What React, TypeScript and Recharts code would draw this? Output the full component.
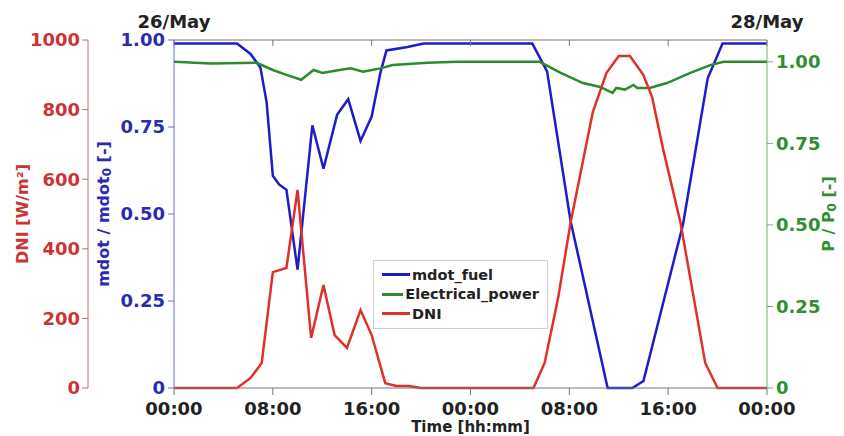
import { LineChart, Line, XAxis, YAxis, Legend } from "recharts";

// hours since 26/May 00:00
const fuelHours = [0, 5.1, 6.2, 7.0, 7.5, 8.0, 8.5, 9.1, 10.0, 11.2, 12.1, 13.2, 14.1, 15.1, 16.0, 16.7, 17.2, 18.9, 20.2, 29.0, 30.2, 32.1, 35.1, 37.1, 38.0, 41.2, 43.2, 44.4, 48];
const fuelValues = [0.99, 0.99, 0.96, 0.92, 0.82, 0.61, 0.585, 0.57, 0.34, 0.755, 0.63, 0.785, 0.83, 0.71, 0.78, 0.905, 0.97, 0.98, 0.99, 0.99, 0.91, 0.48, 0, 0, 0.02, 0.47, 0.89, 0.99, 0.99];

const powerHours = [0, 3, 6.7, 8, 9.1, 10.3, 11.3, 12, 13.4, 14.3, 15.3, 16.7, 17.7, 20.5, 23, 29.6, 31.3, 33.1, 34.5, 35.5, 35.8, 36.5, 37.2, 37.5, 38.5, 39.9, 41.8, 43.4, 44.5, 48];
const powerValues = [1.0, 0.995, 0.997, 0.975, 0.96, 0.945, 0.975, 0.966, 0.975, 0.98, 0.97, 0.98, 0.99, 0.997, 1.0, 1.0, 0.966, 0.935, 0.923, 0.905, 0.92, 0.915, 0.929, 0.92, 0.92, 0.935, 0.966, 0.99, 1.0, 1.0];

const dniHours = [0, 5.1, 6.2, 7.1, 8.0, 9.1, 10.0, 11.1, 12.1, 13.0, 14.0, 15.1, 16.0, 17.1, 18.0, 19.0, 20.0, 29.1, 30.0, 31.1, 32.1, 33.9, 35.0, 36.0, 36.9, 38.0, 38.7, 39.6, 41.0, 43.0, 44.0, 48];
const dniValues = [0, 0, 29, 72, 333, 345, 569, 144, 296, 152, 115, 224, 152, 14, 6, 6, 0, 0, 72, 260, 475, 793, 905, 954, 954, 899, 836, 685, 475, 72, 0, 0];

const timeTicks = [0, 8, 16, 24, 32, 40, 48];
const timeLabels = ["00:00", "08:00", "16:00", "00:00", "08:00", "16:00", "00:00"];
const dateLabels = ["26/May", "", "", "", "", "", "28/May"];

const fuelTicks = [0, 0.25, 0.5, 0.75, 1];
const fuelTickLabels = ["0", "0.25", "0.50", "0.75", "1.00"];
const powerTicks = [0, 0.25, 0.5, 0.75, 1];
const powerTickLabels = ["0", "0.25", "0.50", "0.75", "1.00"];
const dniTicks = [0, 200, 400, 600, 800, 1000];

const legendOrder = ["mdot_fuel", "Electrical_power", "DNI"];

const RED = "#e0302a";
const RED_TXT = "#cc3333";
const BLUE = "#1c1cc8";
const BLUE_TXT = "#2b2bb0";
const GREEN = "#2a8c2a";
const GREEN_TXT = "#2f8f2f";
const FONT = "DejaVu Sans";

const pick = (hours: number[], values: number[], h: number) => {
    const i = hours.indexOf(h);
    return i >= 0 ? values[i] : null;
};

const allHours = Array.from(new Set([...fuelHours, ...powerHours, ...dniHours])).sort((a, b) => a - b);
const rows = allHours.map((h) => ({
    hour: h,
    fuel: pick(fuelHours, fuelValues, h),
    power: pick(powerHours, powerValues, h),
    dni: pick(dniHours, dniValues, h),
}));

const labelFor = (ticks: number[], labels: string[]) => (v: number) => {
    const i = ticks.indexOf(v);
    return i >= 0 ? labels[i] : "";
};

const tickStyle = (fill: string) => ({ fill, fontSize: 18, fontWeight: "bold", fontFamily: FONT });

const sideTitle = (main: string, sub: string | null, rest: string, color: string, dx: number) => (props: any) => {
    const vb = props.viewBox;
    const cx = vb.x + dx;
    const cy = vb.y + vb.height / 2;
    return (
        <text
            x={cx}
            y={cy}
            transform={`rotate(-90 ${cx} ${cy})`}
            textAnchor="middle"
            dominantBaseline="central"
            fill={color}
            fontSize={16}
            fontWeight="bold"
            fontFamily={FONT}
        >
            <tspan>{main}</tspan>
            {sub !== null && <tspan dy={4} fontSize={12}>{sub}</tspan>}
            <tspan dy={sub !== null ? -4 : 0}>{rest}</tspan>
        </text>
    );
};

const timeTitle = (props: any) => {
    const vb = props.viewBox;
    return (
        <text x={vb.x + vb.width / 2} y={vb.y + 44} textAnchor="middle" fill="#222" fontSize={15} fontWeight="bold" fontFamily={FONT}>
            Time [hh:mm]
        </text>
    );
};

const LegendBox = (props: any) => {
    const items = [...props.payload].sort((a: any, b: any) => legendOrder.indexOf(a.value) - legendOrder.indexOf(b.value));
    return (
        <div style={{ background: "#fff", border: "1px solid #cfcfcf", padding: "4px 8px", fontFamily: FONT, fontSize: 14.5, fontWeight: "bold", color: "#222" }}>
            {items.map((p: any) => (
                <div key={p.value} style={{ display: "flex", alignItems: "center", height: 19.5 }}>
                    <span style={{ display: "inline-block", width: 28, height: 3, background: p.color, marginRight: 2 }} />
                    {p.value}
                </div>
            ))}
        </div>
    );
};

export default function App() {
    return (
        <div style={{ position: "absolute", left: 0, top: 0, width: 844, height: 436, background: "#fff" }}>
            <LineChart width={844} height={436} data={rows} margin={{ top: 0, right: 0, bottom: 0, left: 0 }}>
                <XAxis
                    dataKey="hour"
                    type="number"
                    domain={[0, 48]}
                    ticks={timeTicks}
                    interval={0}
                    tickFormatter={labelFor(timeTicks, timeLabels)}
                    height={48}
                    stroke="#777"
                    tickSize={7}
                    tickMargin={7}
                    tick={tickStyle("#222")}
                    label={{ content: timeTitle }}
                />
                <XAxis
                    xAxisId="top"
                    dataKey="hour"
                    orientation="top"
                    type="number"
                    domain={[0, 48]}
                    ticks={timeTicks}
                    interval={0}
                    tickFormatter={labelFor(timeTicks, dateLabels)}
                    height={40}
                    stroke="#777"
                    tickSize={-6}
                    tickMargin={18}
                    tick={tickStyle("#222")}
                />
                <YAxis
                    yAxisId="b_dni"
                    orientation="left"
                    domain={[0, 1000]}
                    ticks={dniTicks}
                    width={88}
                    stroke="#c07070"
                    tickSize={6}
                    tickMargin={2}
                    tick={tickStyle(RED_TXT)}
                    label={{ content: sideTitle("DNI [W/m²]", null, "", RED_TXT, 22) }}
                />
                <YAxis
                    yAxisId="a_fuel"
                    orientation="left"
                    domain={[0, 1]}
                    ticks={fuelTicks}
                    tickFormatter={labelFor(fuelTicks, fuelTickLabels)}
                    width={86}
                    stroke="#6f6fd6"
                    tickSize={6}
                    tickMargin={3}
                    tick={tickStyle(BLUE_TXT)}
                    label={{ content: sideTitle("mdot / mdot", "0", " [-]", BLUE_TXT, 15) }}
                />
                <YAxis
                    yAxisId="power"
                    orientation="right"
                    domain={[0, 1.067]}
                    allowDataOverflow
                    ticks={powerTicks}
                    tickFormatter={labelFor(powerTicks, powerTickLabels)}
                    width={77}
                    stroke="#72b072"
                    tickSize={6}
                    tickMargin={3}
                    tick={tickStyle(GREEN_TXT)}
                    label={{ content: sideTitle("P / P", "0", " [-]", GREEN_TXT, 61) }}
                />
                <Legend
                    layout="vertical"
                    align="center"
                    verticalAlign="middle"
                    wrapperStyle={{ left: 373, top: 260, width: 175 }}
                    content={LegendBox}
                />
                <Line yAxisId="a_fuel" dataKey="fuel" name="mdot_fuel" stroke={BLUE} strokeWidth={2.5} dot={false} connectNulls isAnimationActive={false} />
                <Line yAxisId="power" dataKey="power" name="Electrical_power" stroke={GREEN} strokeWidth={2.5} dot={false} connectNulls isAnimationActive={false} />
                <Line yAxisId="b_dni" dataKey="dni" name="DNI" stroke={RED} strokeWidth={2.5} dot={false} connectNulls isAnimationActive={false} />
            </LineChart>
        </div>
    );
}
